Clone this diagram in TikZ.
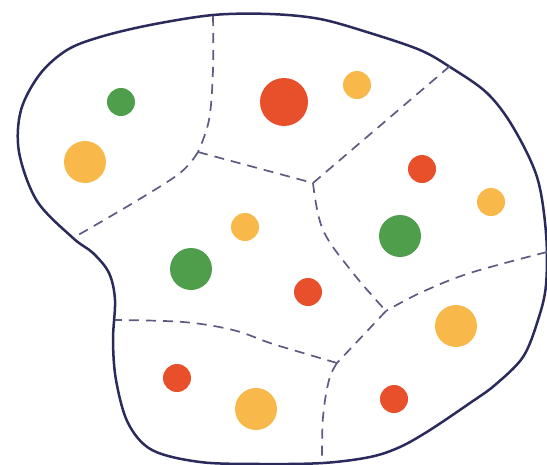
\documentclass[tikz,border=0pt]{standalone}
\begin{document}
\begin{tikzpicture}[x=1pt,y=-1pt,
  outline/.style={draw=linec,line width=2.5pt,line join=round},
  border/.style={draw=dashc,line width=1.7pt,dash pattern=on 10pt off 7pt},
  dot/.style={fill=#1,draw=none}]
\definecolor{linec}{HTML}{2B2A5C}
\definecolor{dashc}{HTML}{5C5C82}
\definecolor{dgreen}{HTML}{4F9E4B}
\definecolor{dorange}{HTML}{F8B84A}
\definecolor{dred}{HTML}{E8502B}
\useasboundingbox (0,0) rectangle (547,464);
% outline
\draw[outline] plot[smooth cycle, tension=0.55] coordinates {
 (213,15) (270,14) (320,19) (370,33) (420,50) (450,67) (487,93) (513,127)
 (537,177) (546,233) (546,285) (538,320) (523,357) (495,385) (470,403) (430,430)
 (400,447) (370,457) (323,463) (260,464) (200,462) (152,450) (128,423) (116,380)
 (113,340) (115,300) (109,273) (93,253) (73,238) (37,201) (19,152) (21,110)
 (40,74) (67,50) (100,37) (150,25)};
% junctions
\coordinate (A) at (198,152);
\coordinate (B) at (313,183);
\coordinate (C) at (386,311);
\coordinate (D) at (337,363);
\coordinate (T1) at (213,16);
\coordinate (L1) at (73,238);
\coordinate (TR) at (450,66);
\coordinate (R1) at (547,252);
\coordinate (L2) at (115,320);
\coordinate (B1) at (322,463);
% dashed borders
\draw[border] plot[smooth, tension=0.6] coordinates {(T1) (213,70) (209,120) (A)};
\draw[border] plot[smooth, tension=0.6] coordinates {(A) (180,173) (133,203) (L1)};
\draw[border] (A) -- (B);
\draw[border] (B) -- (TR);
\draw[border] plot[smooth, tension=0.6] coordinates {(B) (323,230) (353,273) (C)};
\draw[border] plot[smooth, tension=0.6] coordinates {(R1) (470,273) (420,293) (C)};
\draw[border] (C) -- (D);
\draw[border] plot[smooth, tension=0.6] coordinates {(D) (303,353) (270,343) (233,330) (183,322) (L2)};
\draw[border] plot[smooth, tension=0.6] coordinates {(D) (329,380) (323,417) (B1)};
% dots
\fill[dgreen] (121,102) circle (14);
\fill[dorange] (85,162) circle (21);
\fill[dred] (284,102) circle (24);
\fill[dorange] (357,85) circle (14);
\fill[dred] (422,169) circle (14);
\fill[dorange] (491,202) circle (14);
\fill[dgreen] (400,236) circle (21);
\fill[dorange] (245,227) circle (14);
\fill[dgreen] (191,269) circle (21);
\fill[dred] (308,292) circle (14);
\fill[dorange] (456,326) circle (21);
\fill[dred] (177,378) circle (14);
\fill[dorange] (256,409) circle (21);
\fill[dred] (394,399) circle (14);
\end{tikzpicture}
\end{document}
